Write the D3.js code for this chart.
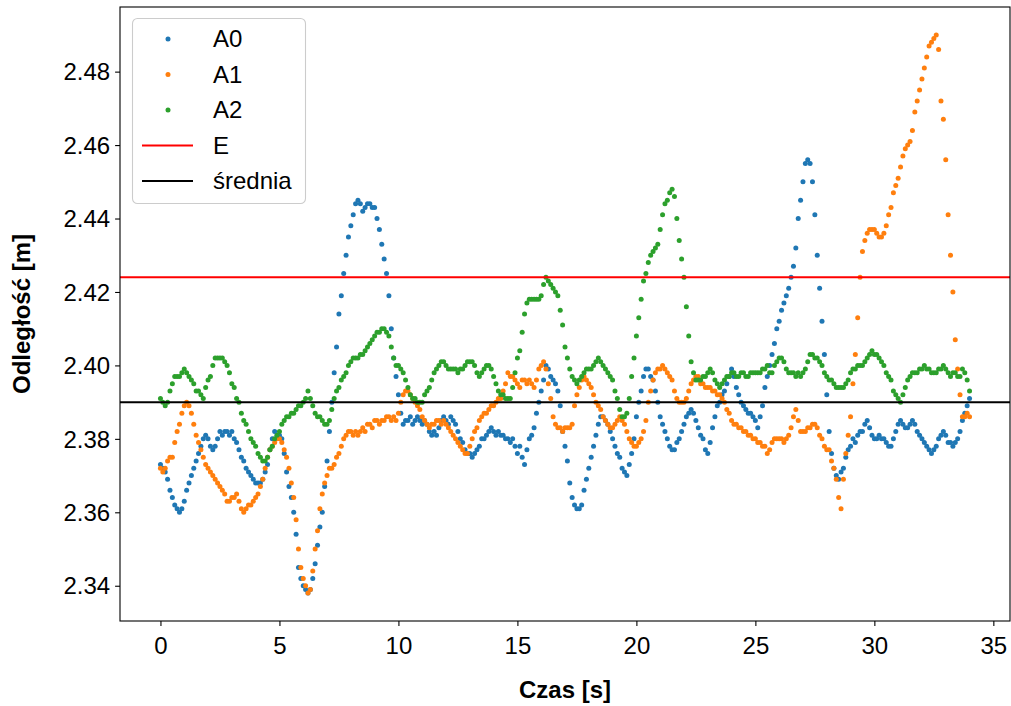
<!DOCTYPE html>
<html>
<head>
<meta charset="utf-8">
<script src="https://cdn.jsdelivr.net/npm/d3@7"></script>
<style>
  body { margin: 0; background: #fff; }
  svg { display: block; }
  text { font-family: "Liberation Sans", Arial, Helvetica, sans-serif; fill: #000; }
</style>
</head>
<body>
<svg id="chart" width="1011" height="706"></svg>
<script>
// Sampling interval of the three distance channels [s]
const dt = 0.1;

// Measured distance [m], one value per sample, rows = 1 s
const A0 = [
  2.373,2.372,2.371,2.369,2.366,2.364,2.362,2.361,2.360,2.361,
  2.363,2.366,2.368,2.370,2.372,2.374,2.376,2.378,2.380,2.381,
  2.380,2.378,2.377,2.378,2.380,2.382,2.381,2.382,2.382,2.381,
  2.382,2.380,2.379,2.377,2.375,2.374,2.372,2.371,2.370,2.369,
  2.368,2.368,2.368,2.369,2.371,2.373,2.377,2.380,2.382,2.381,
  2.381,2.380,2.376,2.371,2.367,2.364,2.360,2.354,2.345,2.342,
  2.340,2.339,2.338,2.339,2.342,2.346,2.351,2.356,2.360,2.367,
  2.374,2.382,2.390,2.398,2.405,2.414,2.419,2.425,2.430,2.435,
  2.438,2.441,2.444,2.445,2.444,2.442,2.443,2.444,2.444,2.443,
  2.443,2.440,2.437,2.433,2.429,2.425,2.419,2.410,2.402,2.397,
  2.392,2.387,2.384,2.385,2.385,2.386,2.384,2.385,2.386,2.385,
  2.384,2.385,2.384,2.382,2.381,2.382,2.381,2.383,2.385,2.386,
  2.385,2.384,2.386,2.385,2.384,2.382,2.380,2.379,2.377,2.376,
  2.376,2.375,2.376,2.377,2.378,2.380,2.380,2.381,2.382,2.383,
  2.382,2.381,2.382,2.381,2.381,2.380,2.380,2.379,2.380,2.378,
  2.376,2.378,2.375,2.373,2.377,2.380,2.381,2.383,2.387,2.390,
  2.393,2.396,2.400,2.399,2.397,2.396,2.395,2.393,2.389,2.382,
  2.378,2.374,2.368,2.364,2.362,2.361,2.361,2.362,2.366,2.369,
  2.372,2.375,2.378,2.381,2.384,2.386,2.386,2.385,2.384,2.382,
  2.380,2.378,2.376,2.375,2.372,2.371,2.370,2.373,2.376,2.380,
  2.386,2.390,2.393,2.397,2.399,2.399,2.397,2.396,2.393,2.390,
  2.386,2.384,2.382,2.380,2.378,2.377,2.377,2.379,2.380,2.382,
  2.384,2.386,2.387,2.388,2.387,2.385,2.383,2.381,2.380,2.377,
  2.376,2.379,2.383,2.386,2.389,2.390,2.392,2.393,2.395,2.397,
  2.399,2.397,2.394,2.392,2.390,2.389,2.388,2.387,2.387,2.386,
  2.385,2.383,2.386,2.389,2.394,2.397,2.400,2.403,2.406,2.410,
  2.412,2.415,2.417,2.419,2.421,2.424,2.427,2.432,2.440,2.445,
  2.450,2.455,2.456,2.455,2.450,2.441,2.430,2.421,2.412,2.403,
  2.392,2.382,2.376,2.372,2.370,2.369,2.371,2.372,2.375,2.377,
  2.378,2.380,2.379,2.381,2.382,2.382,2.384,2.385,2.383,2.381,
  2.380,2.380,2.381,2.380,2.380,2.379,2.378,2.378,2.380,2.382,
  2.384,2.385,2.384,2.383,2.383,2.384,2.385,2.384,2.382,2.381,
  2.380,2.379,2.378,2.377,2.376,2.377,2.378,2.380,2.381,2.382,
  2.381,2.379,2.379,2.378,2.379,2.380,2.382,2.385,2.387,2.389,
  2.391
];

const A1 = [
  2.372,2.371,2.372,2.374,2.375,2.375,2.379,2.382,2.384,2.387,
  2.389,2.390,2.389,2.387,2.384,2.381,2.379,2.377,2.375,2.373,
  2.372,2.371,2.370,2.369,2.368,2.367,2.366,2.365,2.363,2.363,
  2.364,2.364,2.365,2.363,2.361,2.360,2.361,2.362,2.362,2.363,
  2.364,2.365,2.367,2.369,2.372,2.375,2.377,2.378,2.379,2.380,
  2.380,2.379,2.377,2.375,2.372,2.368,2.364,2.358,2.350,2.345,
  2.342,2.340,2.338,2.339,2.344,2.350,2.355,2.361,2.365,2.368,
  2.370,2.372,2.372,2.373,2.375,2.376,2.378,2.380,2.381,2.382,
  2.382,2.381,2.382,2.381,2.382,2.383,2.382,2.384,2.384,2.383,
  2.385,2.385,2.384,2.385,2.385,2.386,2.386,2.385,2.386,2.385,
  2.387,2.390,2.392,2.393,2.393,2.392,2.391,2.390,2.389,2.388,
  2.386,2.385,2.384,2.383,2.384,2.384,2.385,2.385,2.384,2.385,
  2.384,2.383,2.382,2.381,2.380,2.379,2.378,2.377,2.376,2.376,
  2.378,2.380,2.382,2.383,2.385,2.386,2.387,2.387,2.388,2.389,
  2.389,2.390,2.391,2.391,2.393,2.395,2.398,2.397,2.397,2.396,
  2.395,2.394,2.396,2.396,2.395,2.396,2.395,2.394,2.396,2.399,
  2.400,2.401,2.399,2.395,2.391,2.386,2.384,2.383,2.383,2.382,
  2.383,2.383,2.383,2.384,2.389,2.392,2.394,2.396,2.397,2.396,
  2.395,2.394,2.392,2.390,2.389,2.388,2.386,2.385,2.384,2.383,
  2.383,2.384,2.385,2.386,2.385,2.384,2.382,2.380,2.379,2.378,
  2.378,2.379,2.380,2.382,2.385,2.390,2.393,2.396,2.398,2.399,
  2.399,2.400,2.399,2.398,2.397,2.396,2.393,2.391,2.390,2.390,
  2.390,2.391,2.393,2.395,2.396,2.397,2.397,2.395,2.395,2.394,
  2.394,2.394,2.393,2.393,2.392,2.392,2.391,2.390,2.388,2.387,
  2.385,2.384,2.384,2.383,2.383,2.382,2.382,2.381,2.381,2.380,
  2.380,2.379,2.379,2.378,2.378,2.376,2.377,2.379,2.380,2.380,
  2.380,2.380,2.379,2.380,2.381,2.383,2.386,2.388,2.385,2.382,
  2.382,2.382,2.383,2.383,2.384,2.384,2.383,2.381,2.380,2.378,
  2.377,2.377,2.374,2.372,2.369,2.364,2.361,2.369,2.376,2.381,
  2.386,2.395,2.403,2.413,2.424,2.431,2.434,2.436,2.437,2.437,
  2.437,2.436,2.435,2.435,2.436,2.438,2.441,2.443,2.447,2.449,
  2.451,2.454,2.457,2.459,2.460,2.461,2.464,2.469,2.472,2.475,
  2.478,2.481,2.484,2.487,2.488,2.489,2.490,2.486,2.472,2.467,
  2.456,2.441,2.430,2.420,2.407,2.399,2.392,2.386,2.386,2.387,
  2.386
];

const A2 = [
  2.391,2.390,2.389,2.390,2.393,2.395,2.397,2.397,2.397,2.398,
  2.399,2.398,2.397,2.396,2.395,2.393,2.393,2.392,2.391,2.394,
  2.396,2.397,2.400,2.402,2.402,2.402,2.402,2.401,2.400,2.398,
  2.395,2.394,2.391,2.390,2.387,2.385,2.384,2.382,2.380,2.379,
  2.378,2.376,2.375,2.374,2.374,2.375,2.377,2.378,2.380,2.381,
  2.382,2.384,2.385,2.386,2.386,2.387,2.387,2.388,2.389,2.389,
  2.390,2.391,2.393,2.391,2.389,2.387,2.386,2.386,2.385,2.384,
  2.384,2.385,2.388,2.391,2.393,2.394,2.396,2.397,2.398,2.400,
  2.401,2.402,2.402,2.402,2.403,2.403,2.404,2.405,2.406,2.407,
  2.408,2.409,2.409,2.410,2.410,2.409,2.408,2.405,2.402,2.400,
  2.400,2.399,2.398,2.396,2.394,2.392,2.391,2.391,2.390,2.390,
  2.390,2.392,2.393,2.394,2.396,2.398,2.399,2.400,2.401,2.401,
  2.400,2.399,2.399,2.399,2.399,2.398,2.399,2.399,2.400,2.401,
  2.401,2.401,2.400,2.398,2.397,2.398,2.399,2.400,2.400,2.399,
  2.397,2.395,2.393,2.392,2.392,2.391,2.391,2.391,2.394,2.398,
  2.402,2.404,2.409,2.414,2.417,2.418,2.418,2.418,2.418,2.418,
  2.419,2.422,2.424,2.423,2.422,2.421,2.420,2.419,2.415,2.411,
  2.405,2.402,2.399,2.397,2.396,2.395,2.396,2.397,2.398,2.399,
  2.399,2.399,2.400,2.401,2.402,2.401,2.400,2.399,2.398,2.397,
  2.396,2.393,2.391,2.388,2.386,2.386,2.387,2.391,2.397,2.402,
  2.408,2.413,2.418,2.423,2.425,2.428,2.430,2.431,2.432,2.433,
  2.437,2.441,2.444,2.445,2.447,2.448,2.446,2.440,2.434,2.429,
  2.424,2.416,2.408,2.401,2.398,2.396,2.396,2.396,2.397,2.397,
  2.398,2.399,2.398,2.396,2.395,2.394,2.395,2.396,2.397,2.397,
  2.398,2.398,2.397,2.397,2.398,2.398,2.397,2.397,2.398,2.398,
  2.398,2.398,2.398,2.399,2.399,2.400,2.398,2.398,2.400,2.401,
  2.402,2.402,2.401,2.399,2.398,2.398,2.398,2.397,2.398,2.397,
  2.398,2.399,2.401,2.403,2.403,2.402,2.402,2.401,2.400,2.398,
  2.397,2.396,2.396,2.395,2.394,2.394,2.394,2.394,2.395,2.396,
  2.398,2.399,2.399,2.400,2.400,2.400,2.401,2.402,2.403,2.404,
  2.403,2.403,2.402,2.401,2.400,2.398,2.397,2.396,2.393,2.392,
  2.391,2.390,2.392,2.394,2.396,2.397,2.398,2.398,2.398,2.399,
  2.399,2.400,2.399,2.399,2.398,2.398,2.398,2.399,2.399,2.400,
  2.399,2.398,2.397,2.398,2.398,2.397,2.397,2.399,2.398,2.396,
  2.393
];

// Horizontal reference levels [m]
const E = 2.424;
const srednia = 2.390;

// Axis ticks
const xTicks = [0, 5, 10, 15, 20, 25, 30, 35];
const yTicks = [2.34, 2.36, 2.38, 2.40, 2.42, 2.44, 2.46, 2.48];

const seriesNames = ["A0", "A1", "A2"];
const seriesColors = ["#1f77b4", "#ff7f0e", "#2ca02c"];
const lineNames = ["E", "średnia"];
const lineColors = ["#ff0000", "#000000"];

// ---------------------------------------------------------------
const svg = d3.select("#chart");
const plot = { left: 120, right: 1010, top: 7, bottom: 621 };
const FS = 24;

const time = A0.map((_, i) => +(i * dt).toFixed(2));
const series = [A0, A1, A2];

// 5 % padding on both axes around the data extent
const tExt = d3.extent(time);
const tPad = 0.05 * (tExt[1] - tExt[0]);
const x = d3.scaleLinear()
  .domain([tExt[0] - tPad, tExt[1] + tPad])
  .range([plot.left, plot.right]);

const vExt = d3.extent(series.flat());
const vPad = 0.05 * (vExt[1] - vExt[0]);
const y = d3.scaleLinear()
  .domain([vExt[0] - vPad, vExt[1] + vPad])
  .range([plot.bottom, plot.top]);

svg.append("defs").append("clipPath").attr("id", "clip")
  .append("rect")
  .attr("x", plot.left).attr("y", plot.top)
  .attr("width", plot.right - plot.left).attr("height", plot.bottom - plot.top);

// Scatter points of each channel
const dots = svg.append("g").attr("clip-path", "url(#clip)");
series.forEach((vals, s) => {
  dots.append("g")
    .attr("fill", seriesColors[s])
    .selectAll("circle")
    .data(vals)
    .join("circle")
    .attr("cx", (d, i) => x(time[i]))
    .attr("cy", d => y(d))
    .attr("r", 2.5);
});

// Reference lines
const levels = [E, srednia];
svg.append("g").attr("clip-path", "url(#clip)")
  .selectAll("line")
  .data(levels)
  .join("line")
  .attr("x1", plot.left).attr("x2", plot.right)
  .attr("y1", d => y(d)).attr("y2", d => y(d))
  .attr("stroke", (d, i) => lineColors[i])
  .attr("stroke-width", 2);

// Axes
const xAxis = svg.append("g")
  .attr("transform", `translate(0,${plot.bottom})`)
  .call(d3.axisBottom(x).tickValues(xTicks).tickFormat(d3.format("d"))
    .tickSize(4.9).tickPadding(4.9));
const yAxis = svg.append("g")
  .attr("transform", `translate(${plot.left},0)`)
  .call(d3.axisLeft(y).tickValues(yTicks).tickFormat(d3.format(".2f"))
    .tickSize(4.9).tickPadding(4.9));

[xAxis, yAxis].forEach(g => {
  g.select(".domain").remove();
  g.selectAll(".tick line").attr("stroke", "#000").attr("stroke-width", 1.1);
  g.selectAll(".tick text").attr("font-size", FS).attr("fill", "#000")
    .style("font-family", '"Liberation Sans", Arial, sans-serif');
});
xAxis.selectAll(".tick text").attr("dy", null).attr("y", 33);
yAxis.selectAll(".tick text").attr("dy", "0.34em");

// Frame
svg.append("rect")
  .attr("x", plot.left).attr("y", plot.top)
  .attr("width", plot.right - plot.left).attr("height", plot.bottom - plot.top)
  .attr("fill", "none").attr("stroke", "#000").attr("stroke-width", 1.1);

// Axis titles
svg.append("text")
  .attr("x", (plot.left + plot.right) / 2).attr("y", 698)
  .attr("text-anchor", "middle")
  .attr("font-size", FS).attr("font-weight", "bold")
  .text("Czas [s]");

svg.append("text")
  .attr("transform", `translate(30,${(plot.top + plot.bottom) / 2}) rotate(-90)`)
  .attr("text-anchor", "middle")
  .attr("font-size", FS).attr("font-weight", "bold")
  .text("Odległość [m]");

// Legend
const legend = svg.append("g");
legend.append("rect")
  .attr("x", 132.5).attr("y", 18.5)
  .attr("width", 173).attr("height", 185)
  .attr("rx", 5).attr("ry", 5)
  .attr("fill", "#fff").attr("fill-opacity", 0.8)
  .attr("stroke", "#cccccc").attr("stroke-width", 1.1);

const entries = [
  ...seriesNames.map((n, i) => ({ name: n, color: seriesColors[i], kind: "dot" })),
  ...lineNames.map((n, i) => ({ name: n, color: lineColors[i], kind: "line" }))
];
const rowY = d3.scalePoint().domain(entries.map(e => e.name)).range([39, 181]);
const item = legend.selectAll("g.item")
  .data(entries)
  .join("g")
  .attr("class", "item")
  .attr("transform", d => `translate(0,${rowY(d.name)})`);
item.filter(d => d.kind === "dot").append("circle")
  .attr("cx", 168).attr("cy", 0).attr("r", 2.5)
  .attr("fill", d => d.color);
item.filter(d => d.kind === "line").append("line")
  .attr("x1", 142).attr("x2", 193).attr("y1", 0).attr("y2", 0)
  .attr("stroke", d => d.color).attr("stroke-width", 2);
item.append("text")
  .attr("x", 213).attr("y", 0).attr("dy", "0.35em")
  .attr("font-size", FS)
  .text(d => d.name);
</script>
</body>
</html>
